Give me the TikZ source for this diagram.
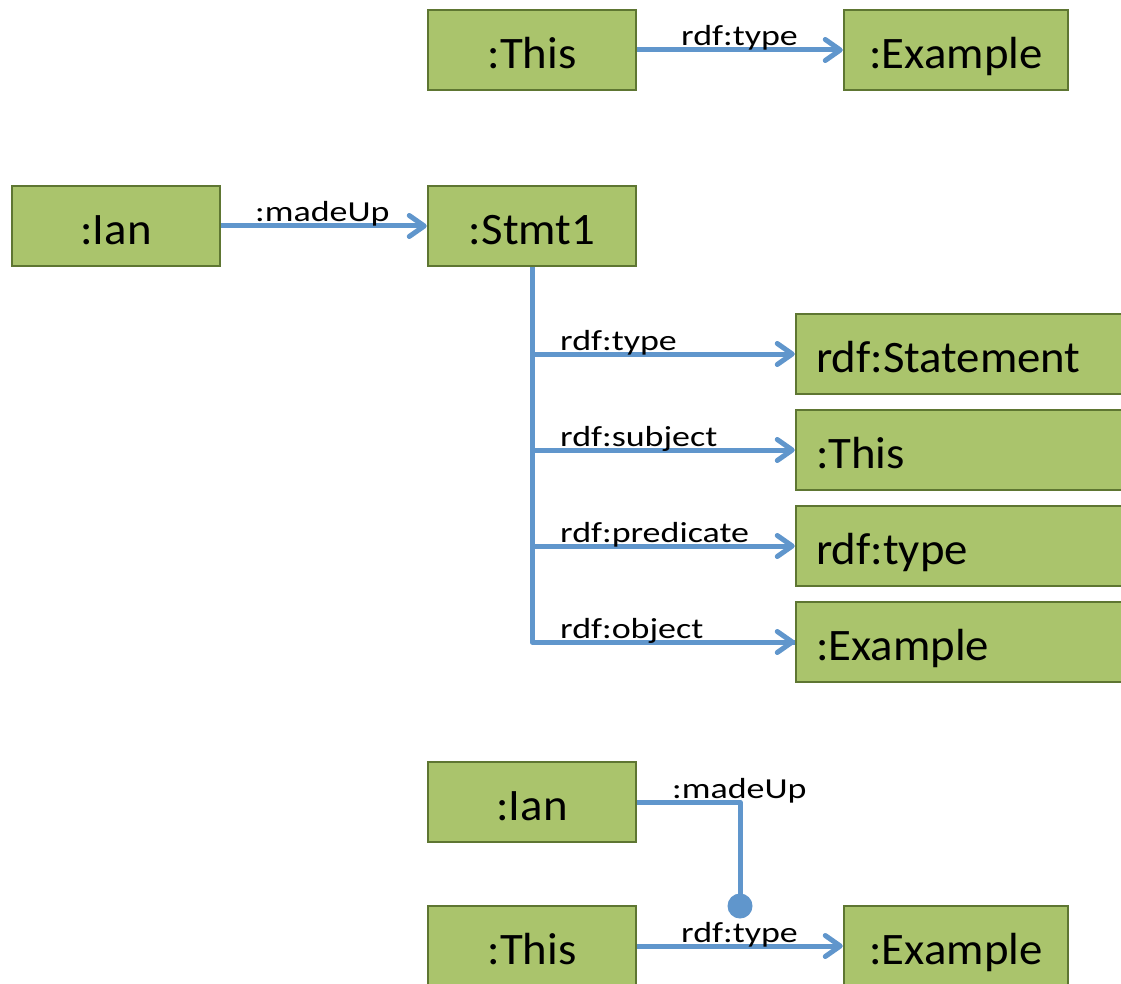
\documentclass[tikz,border=0pt]{standalone}
\usepackage{fontspec}
\setmainfont{Carlito}[FakeStretch=1.04]
\newfontfamily\lblfont{Carlito}[FakeStretch=1.24]
\usetikzlibrary{arrows.meta}
\definecolor{boxfill}{RGB}{170,196,108}
\definecolor{boxline}{RGB}{94,118,50}
\definecolor{linkblue}{RGB}{96,150,204}
\begin{document}
\begin{tikzpicture}[x=1pt,y=-1pt,
  res/.style={draw=boxline, line width=2.5pt, fill=boxfill, minimum width=208pt,
    minimum height=80pt, inner sep=0pt, font=\fontsize{45}{45}\selectfont,
    text height=37pt, text depth=0pt},
  resw/.style={res, minimum width=224pt},
  wide/.style={res, text width=300pt, align=left, inner xsep=20pt, minimum width=340pt},
  link/.style={draw=linkblue, line width=5pt, line join=round},
  arr/.style={link, -{Straight Barb[length=15pt,width=21pt,round]}},
  lbl/.style={font=\lblfont\fontsize{29}{29}\selectfont, inner sep=0pt, anchor=base west}]
\useasboundingbox (0,0) rectangle (1121,984);
\clip (0,0) rectangle (1121,984);

% simple triple
\node[res]  (this1) at (532,50)  {:This};
\node[resw] (ex1)   at (956,50)  {:Example};
\draw[arr] (this1.east) -- (ex1.west);
\node[lbl] (l1) at (681,46) {rdf:type};

% reified statement
\node[res] (ian1) at (116,226) {:Ian};
\node[res] (stmt) at (532,226) {:Stmt1};
\draw[arr] (ian1.east) -- (stmt.west);
\node[lbl] (l2) at (255,222) {:madeUp};

\node[wide] (rst)   at (966,354) {rdf:Statement};
\node[wide] (rsub)  at (966,450) {:This};
\node[wide] (rpred) at (966,546) {rdf:type};
\node[wide] (robj)  at (966,642) {:Example};

\coordinate (j1) at (stmt.south |- rst.west);
\coordinate (j2) at (stmt.south |- rsub.west);
\coordinate (j3) at (stmt.south |- rpred.west);
\coordinate (j4) at (stmt.south |- robj.west);
\draw[link] (stmt.south) -- (j4) -- (robj.west);
\draw[arr] (j1) -- (rst.west);
\draw[arr] (j2) -- (rsub.west);
\draw[arr] (j3) -- (rpred.west);
\draw[arr] (j4) -- (robj.west);
\node[lbl] (l3) at (560,350) {rdf:type};
\node[lbl] (l4) at (560,446) {rdf:subject};
\node[lbl] (l5) at (560,542) {rdf:predicate};
\node[lbl] (l6) at (560,638) {rdf:object};

% statement about a triple
\node[res]  (ian2)  at (532,802) {:Ian};
\node[res]  (this2) at (532,946) {:This};
\node[resw] (ex2)   at (956,946) {:Example};
\coordinate (dot) at (740,906);
\draw[link] (ian2.east) -| (dot);
\fill[linkblue] (dot) circle (12.5pt);
\draw[arr] (this2.east) -- (ex2.west);
\node[lbl] (l7) at (672,798) {:madeUp};
\node[lbl] (l8) at (681,942) {rdf:type};
\end{tikzpicture}
\end{document}
